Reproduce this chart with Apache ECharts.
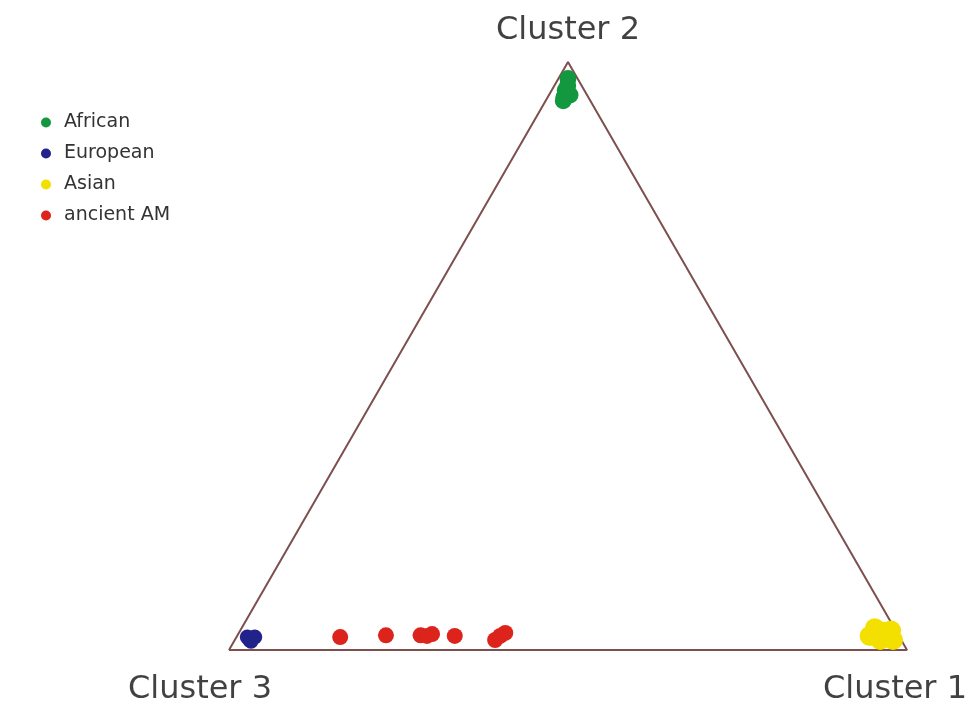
<!DOCTYPE html>
<html><head><meta charset="utf-8">
<script src="https://cdn.jsdelivr.net/npm/echarts@6/dist/echarts.min.js"></script>
<style>html,body{margin:0;padding:0;background:#fff}#c{width:973px;height:704px}</style>
</head><body><div id="c"></div>
<script>
// ternary compositions [Cluster1, Cluster2, Cluster3] in %
const vertexLabels = ['Cluster 3', 'Cluster 2', 'Cluster 1'];
const vertices = [[0, 0, 100], [0, 100, 0], [100, 0, 0]];
const african = [[1.4, 97.2, 1.4], [2.0, 95.2, 2.8], [3.1, 94.4, 2.5], [2.4, 94.0, 3.6], [2.0, 95.9, 2.1], [2.6, 93.4, 4.0]];
const european = [[2.2, 1.7, 96.1], [2.7, 2.2, 95.1], [1.6, 2.2, 96.2], [2.5, 1.5, 96.0]];
const asian = [[93.4, 3.7, 2.9], [95.2, 3.1, 1.7], [97.1, 1.7, 1.2], [95.2, 1.7, 3.1], [93.3, 2.4, 4.3], [96.0, 3.3, 0.7]];
const ancientAM = [[15.3, 2.2, 82.5], [21.9, 2.5, 75.6], [27.0, 2.5, 70.5], [28.0, 2.4, 69.6], [28.6, 2.7, 68.7], [32.1, 2.4, 65.5], [38.4, 1.7, 59.9], [38.8, 2.4, 58.8], [39.3, 2.9, 57.8]];

const H = Math.sqrt(3) / 2;
function tern(p) { const s = p[0] + p[1] + p[2]; const a = p[0] / s, b = p[1] / s; return [a + b / 2, b * H]; }

const FONT = 'DejaVu Sans';
const chart = echarts.init(document.getElementById('c'));
const labelOffsets = [[-29, 40], [0, -31], [-12, 40]];

chart.setOption({
  animation: false,
  backgroundColor: '#fff',
  grid: { left: 229, right: 66, top: 62, bottom: 54 },
  xAxis: { type: 'value', min: 0, max: 1, show: false },
  yAxis: { type: 'value', min: 0, max: H, show: false },
  legend: {
    orient: 'vertical', left: 36, top: 108, itemGap: 12, itemWidth: 18, itemHeight: 10,
    textStyle: { fontSize: 19, color: '#333', fontFamily: FONT, padding: [0, 0, 0, 4] },
    data: [
      { name: 'African', icon: 'circle' },
      { name: 'European', icon: 'circle' },
      { name: 'Asian', icon: 'circle' },
      { name: 'ancient AM', icon: 'circle' }
    ]
  },
  series: [
    { type: 'line', name: 'triangle', data: vertices.concat([vertices[0]]).map(tern), symbol: 'none', lineStyle: { color: '#7d4f4f', width: 2 }, silent: true, z: 1 },
    {
      type: 'scatter', name: 'vertices', silent: true, symbolSize: 1, itemStyle: { color: 'rgba(0,0,0,0)' }, z: 5,
      data: vertices.map((v, i) => ({
        value: tern(v),
        label: { show: true, position: 'inside', formatter: vertexLabels[i], offset: labelOffsets[i], fontSize: 32, color: '#111', fontFamily: FONT }
      }))
    },
    { type: 'scatter', name: 'African', data: african.map(tern), symbolSize: 17, itemStyle: { color: '#13973f', opacity: 1 }, z: 3 },
    { type: 'scatter', name: 'European', data: european.map(tern), symbolSize: 15, itemStyle: { color: '#22238a', opacity: 1 }, z: 3 },
    { type: 'scatter', name: 'Asian', data: asian.map(tern), symbolSize: 20, itemStyle: { color: '#f3e000', opacity: 1 }, z: 3 },
    { type: 'scatter', name: 'ancient AM', data: ancientAM.map(tern), symbolSize: 16, itemStyle: { color: '#dc241c', opacity: 1 }, z: 3 }
  ]
});
</script></body></html>
